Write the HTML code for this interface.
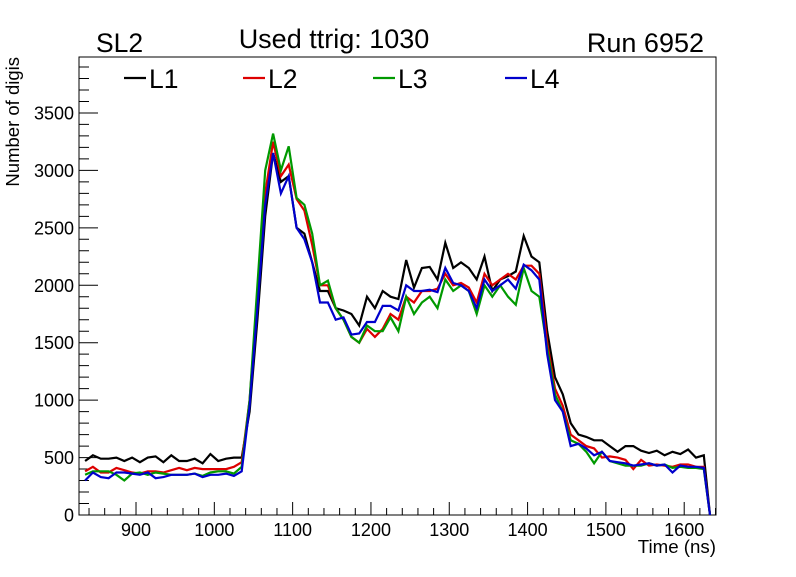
<!DOCTYPE html>
<html><head><meta charset="utf-8"><style>
body{margin:0;background:#fff}
svg text{font-family:"Liberation Sans",sans-serif}
</style></head><body>
<svg id="c" width="796" height="572" xmlns="http://www.w3.org/2000/svg">
<rect width="796" height="572" fill="#fff"/>
<text x="96" y="52" font-size="26.5">SL2</text>
<text x="334" y="48" font-size="27" text-anchor="middle">Used ttrig: 1030</text>
<text x="704" y="52" font-size="27" text-anchor="end">Run 6952</text>
<text transform="translate(19,57) rotate(-90)" font-size="18.5" text-anchor="end">Number of digis</text>
<text x="716" y="553" font-size="18.7" text-anchor="end">Time (ns)</text>
<g id="axes"></g>
<g id="series"></g>
<g id="legend"></g>
</svg>
<script>
const times=[835,845,855,865,875,885,895,905,915,925,935,945,955,965,975,985,995,1005,1015,1025,1035,1045,1055,1065,1075,1085,1095,1105,1115,1125,1135,1145,1155,1165,1175,1185,1195,1205,1215,1225,1235,1245,1255,1265,1275,1285,1295,1305,1315,1325,1335,1345,1355,1365,1375,1385,1395,1405,1415,1425,1435,1445,1455,1465,1475,1485,1495,1505,1515,1525,1535,1545,1555,1565,1575,1585,1595,1605,1615,1625,1633];
const l1=[470,520,490,490,500,470,500,460,500,510,460,520,470,470,490,450,530,470,490,500,500,900,1700,2600,3150,2900,2950,2500,2450,2200,1950,1950,1800,1780,1750,1650,1900,1800,1950,1900,1880,2220,1980,2150,2160,2050,2370,2150,2200,2150,2050,2250,1950,2050,2080,2120,2430,2250,2200,1600,1200,1050,800,700,680,650,650,600,550,600,600,560,540,560,520,550,530,570,500,520,0];
const l2=[380,420,370,370,410,390,370,360,380,380,370,390,410,390,410,400,400,400,400,420,460,1000,1900,2800,3250,2950,3050,2750,2650,2350,2000,2000,1800,1700,1550,1500,1620,1550,1620,1750,1700,1900,1850,1950,1950,1970,2100,2000,2020,1980,1850,2100,2000,2050,2100,2050,2170,2170,2100,1500,1100,950,700,650,600,580,500,510,500,480,400,480,430,440,430,420,440,440,420,420,0];
const l3=[350,380,380,380,350,300,360,370,350,370,360,350,350,350,360,340,370,380,380,360,420,1000,2000,3000,3320,3000,3210,2760,2700,2450,2000,2040,1800,1700,1550,1500,1650,1600,1600,1720,1600,1900,1750,1850,1900,1800,2050,1950,2000,1950,1750,2000,1900,2000,1900,1830,2150,1950,1900,1450,1050,900,650,620,550,450,550,470,450,430,430,430,450,430,440,410,420,410,410,400,0];
const l4=[300,370,330,320,370,370,360,350,370,320,330,350,350,350,360,330,350,350,360,340,380,950,1800,2700,3150,2800,2950,2500,2400,2200,1850,1850,1700,1720,1570,1580,1680,1680,1820,1820,1780,2000,1950,1950,1960,1940,2150,2020,2000,1950,1800,2050,1950,2000,2050,1970,2180,2130,2050,1400,1000,900,600,620,580,520,550,470,460,450,430,440,450,430,440,370,430,420,420,410,0];
const xTicks=[900,1000,1100,1200,1300,1400,1500,1600];
const yTicks=[0,500,1000,1500,2000,2500,3000,3500];
const seriesNames=["L1","L2","L3","L4"];
const seriesColors=["#000","#d00","#090","#00c"];
const X0=79,X1=716,Y0=515,Y1=57;
const xMin=827.2,xMax=1640.6,yMin=0,yMax=3987;
const NS="http://www.w3.org/2000/svg";
function sx(t){return X0+(t-xMin)/(xMax-xMin)*(X1-X0);}
function sy(v){return Y0-(v-yMin)/(yMax-yMin)*(Y0-Y1);}
function mk(tag,at,parent){const e=document.createElementNS(NS,tag);for(const k in at)e.setAttribute(k,at[k]);parent.appendChild(e);return e;}
const ax=document.getElementById('axes');
const fr=mk('rect',{x:X0,y:Y1,width:X1-X0,height:Y0-Y1,fill:'none',stroke:'#000','stroke-width':1},ax);


let d='';
for(let v=0;v<=yMax;v+=100){const y=sy(v);const L=(v%500===0)?19:10;d+=`M${X0} ${y}h${L}`;}
for(let t=840;t<=xMax;t+=20){const x=sx(t);const L=(t%100===0)?13:7;d+=`M${x} ${Y0}v${-L}`;}
const tk=mk('path',{d:d,stroke:'#000','stroke-width':1,fill:'none'},ax);


yTicks.forEach(v=>{const t=mk('text',{x:X0-5,y:sy(v)+6.5,'font-size':18,'text-anchor':'end'},ax);t.textContent=v;

});
xTicks.forEach(v=>{const t=mk('text',{x:sx(v),y:Y0+21,'font-size':18,'text-anchor':'middle'},ax);t.textContent=v;

});
const sg=document.getElementById('series');
[l1,l2,l3,l4].forEach((arr,i)=>{const pts=arr.map((v,j)=>sx(times[j]).toFixed(1)+','+sy(v).toFixed(1)).join(' ');
const p=mk('polyline',{points:pts,fill:'none',stroke:seriesColors[i],'stroke-width':2.2,'stroke-linejoin':'miter'},sg);

});
const lg=document.getElementById('legend');
const lx=[124,243,373,505];
seriesNames.forEach((n,i)=>{const g=mk('g',{},lg);


mk('line',{x1:lx[i],y1:78,x2:lx[i]+22,y2:78,stroke:seriesColors[i],'stroke-width':2.2},g);
const t=mk('text',{x:lx[i]+25,y:88,'font-size':26.5},g);t.textContent=n;});
</script>
</body></html>
